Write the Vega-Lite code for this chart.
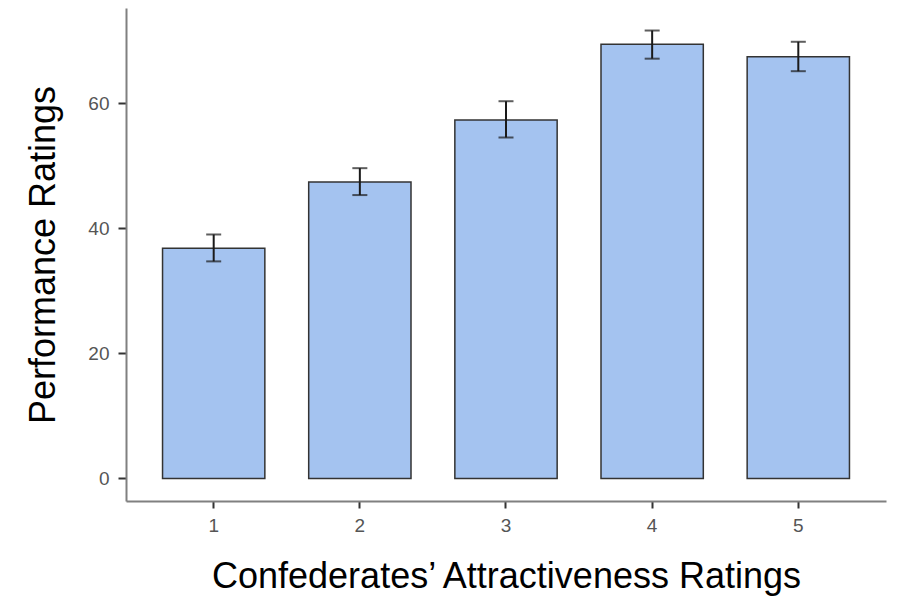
{
  "$schema": "https://vega.github.io/schema/vega-lite/v6.json",
  "autosize": {"type": "none"},
  "padding": {"left": 126, "top": 8, "right": 11, "bottom": 101},
  "width": 760,
  "height": 493,
  "background": "white",
  "config": {
    "view": {"stroke": null},
    "font": "Liberation Sans"
  },
  "data": {
    "values": [
      {"rating": "1", "mean": 36.8, "lower": 34.7, "upper": 39.0},
      {"rating": "2", "mean": 47.4, "lower": 45.3, "upper": 49.6},
      {"rating": "3", "mean": 57.3, "lower": 54.5, "upper": 60.3},
      {"rating": "4", "mean": 69.4, "lower": 67.1, "upper": 71.6},
      {"rating": "5", "mean": 67.4, "lower": 65.1, "upper": 69.8}
    ]
  },
  "encoding": {
    "x": {
      "field": "rating",
      "type": "ordinal",
      "scale": {"type": "band", "paddingInner": 0.3, "paddingOuter": 0.25},
      "axis": {
        "title": "Confederates’ Attractiveness Ratings",
        "labelAngle": 0,
        "labelFont": "Liberation Sans",
        "labelFontSize": 19,
        "labelColor": "#555555",
        "labelPadding": 8,
        "tickSize": 7,
        "tickColor": "#333333",
        "tickWidth": 2,
        "domainColor": "#808080",
        "domainWidth": 2,
        "titleFont": "Liberation Sans",
        "titleFontSize": 36,
        "titleFontWeight": "normal",
        "titleColor": "#000000",
        "titlePadding": 24
      }
    }
  },
  "layer": [
    {
      "mark": {"type": "bar", "fill": "#a4c3f0", "stroke": "#333333", "strokeWidth": 1.5},
      "encoding": {
        "y": {
          "field": "mean",
          "type": "quantitative",
          "scale": {"domain": [-3.6, 75.2], "nice": false, "zero": false},
          "axis": {
            "title": "Performance Ratings",
            "values": [0, 20, 40, 60],
            "grid": false,
            "labelFont": "Liberation Sans",
            "labelFontSize": 19,
            "labelColor": "#555555",
            "labelPadding": 9,
            "tickSize": 8,
            "tickColor": "#333333",
            "tickWidth": 2,
            "domainColor": "#808080",
            "domainWidth": 2,
            "titleFont": "Liberation Sans",
            "titleFontSize": 36,
            "titleFontWeight": "normal",
            "titleColor": "#000000",
            "titlePadding": 25
          }
        },
        "y2": {"datum": 0}
      }
    },
    {
      "mark": {"type": "rule", "color": "#1a1a1a", "strokeWidth": 2},
      "encoding": {
        "y": {"field": "lower", "type": "quantitative"},
        "y2": {"field": "upper"}
      }
    },
    {
      "mark": {"type": "tick", "color": "#1a1a1a", "thickness": 2, "size": 15, "orient": "horizontal"},
      "encoding": {
        "y": {"field": "upper", "type": "quantitative"}
      }
    },
    {
      "mark": {"type": "tick", "color": "#1a1a1a", "thickness": 2, "size": 15, "orient": "horizontal"},
      "encoding": {
        "y": {"field": "lower", "type": "quantitative"}
      }
    }
  ]
}
